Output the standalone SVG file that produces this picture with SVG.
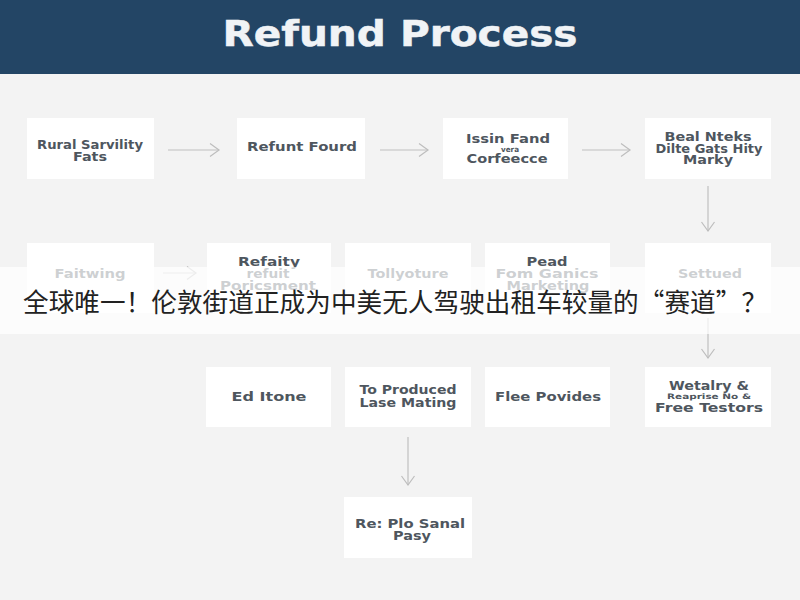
<svg xmlns="http://www.w3.org/2000/svg" width="800" height="600" viewBox="0 0 800 600">
<defs>
<marker id="a" markerUnits="userSpaceOnUse" markerWidth="20" markerHeight="20" refX="17" refY="10" orient="auto"><path d="M8 3.5L17 10L8 16.5" fill="none" stroke="#bdbdbd" stroke-width="1.2"/></marker>
</defs>
<style>
.n{fill:#fff}
.t{font-family:"DejaVu Sans","Liberation Sans",sans-serif;font-size:12.5px;font-weight:700;fill:#4e565e;text-anchor:middle}
.s{font-size:7.5px}
.c{fill:none;stroke:#c0c0c0;stroke-width:1.2;marker-end:url(#a)}
</style>
<rect width="800" height="600" fill="#f3f3f3"/>
<rect id="header" width="800" height="74" fill="#234565"/>
<text x="400" y="46" font-family="'DejaVu Sans','Liberation Sans',sans-serif" font-size="35" font-weight="700" fill="#f0f3f6" stroke="#f0f3f6" stroke-width=".5" text-anchor="middle" textLength="355" lengthAdjust="spacingAndGlyphs">Refund Process</text>
<g id="connectors">
<path class="c" d="M168 150H219"/><path class="c" d="M380 150H428"/><path class="c" d="M582 150H630"/>
<path class="c" d="M708 186V231"/><path class="c" d="M163 273H196"/><path class="c" d="M708 318V358"/><path class="c" d="M408 437V485"/>
</g>
<g id="n1"><rect class="n" x="27" y="118" width="127" height="61"/><text class="t" x="90" y="149" textLength="106" lengthAdjust="spacingAndGlyphs">Rural Sarvility</text><text class="t" x="90" y="161" textLength="34" lengthAdjust="spacingAndGlyphs">Fats</text></g>
<g id="n2"><rect class="n" x="237" y="118" width="128" height="61"/><text class="t" x="302" y="151" textLength="110" lengthAdjust="spacingAndGlyphs">Refunt Fourd</text></g>
<g id="n3"><rect class="n" x="443" y="118" width="125" height="61"/><text class="t" x="508" y="143" textLength="84" lengthAdjust="spacingAndGlyphs">Issin Fand</text><text class="t s" x="510" y="152" textLength="18" lengthAdjust="spacingAndGlyphs">vera</text><text class="t" x="507" y="163" textLength="81" lengthAdjust="spacingAndGlyphs">Corfeecce</text></g>
<g id="n4"><rect class="n" x="645" y="118" width="126" height="61"/><text class="t" x="708" y="141" textLength="87" lengthAdjust="spacingAndGlyphs">Beal Nteks</text><text class="t" x="709" y="153" textLength="107" lengthAdjust="spacingAndGlyphs">Dilte Gats Hity</text><text class="t" x="708" y="164" textLength="50" lengthAdjust="spacingAndGlyphs">Marky</text></g>
<g id="n5"><rect class="n" x="27" y="243" width="127" height="70"/><text class="t" x="90" y="278" textLength="71" lengthAdjust="spacingAndGlyphs">Faitwing</text></g>
<g id="n6"><rect class="n" x="207" y="243" width="124" height="70"/><text class="t" x="269" y="266" textLength="62" lengthAdjust="spacingAndGlyphs">Refaity</text><text class="t" x="268" y="278" textLength="43" lengthAdjust="spacingAndGlyphs">refuit</text><text class="t" x="268" y="290" textLength="96" lengthAdjust="spacingAndGlyphs">Poricsment</text></g>
<g id="n7"><rect class="n" x="345" y="243" width="126" height="70"/><text class="t" x="408" y="278" textLength="81" lengthAdjust="spacingAndGlyphs">Tollyoture</text></g>
<g id="n8"><rect class="n" x="485" y="243" width="125" height="70"/><text class="t" x="547" y="266" textLength="41" lengthAdjust="spacingAndGlyphs">Pead</text><text class="t" x="547" y="278" textLength="103" lengthAdjust="spacingAndGlyphs">Fom Ganics</text><text class="t" x="548" y="290" textLength="83" lengthAdjust="spacingAndGlyphs">Marketing</text></g>
<g id="n9"><rect class="n" x="645" y="243" width="126" height="70"/><text class="t" x="710" y="278" textLength="64" lengthAdjust="spacingAndGlyphs">Settued</text></g>
<rect id="banner" y="267" width="800" height="67" fill="#fff" fill-opacity=".72"/>
<text x="395" y="312" font-family="'Noto Sans CJK SC','Noto Sans',sans-serif" font-size="25.6" fill="#222" text-anchor="middle" textLength="744">全球唯一！伦敦街道正成为中美无人驾驶出租车较量的“赛道”？</text>
<g id="n10"><rect class="n" x="206" y="367" width="125" height="60"/><text class="t" x="269" y="401" textLength="75" lengthAdjust="spacingAndGlyphs">Ed Itone</text></g>
<g id="n11"><rect class="n" x="345" y="367" width="126" height="60"/><text class="t" x="408" y="394" textLength="97" lengthAdjust="spacingAndGlyphs">To Produced</text><text class="t" x="408" y="407" textLength="97" lengthAdjust="spacingAndGlyphs">Lase Mating</text></g>
<g id="n12"><rect class="n" x="485" y="367" width="125" height="60"/><text class="t" x="548" y="401" textLength="106" lengthAdjust="spacingAndGlyphs">Flee Povides</text></g>
<g id="n13"><rect class="n" x="645" y="367" width="126" height="60"/><text class="t" x="709" y="390" textLength="80" lengthAdjust="spacingAndGlyphs">Wetalry &amp;</text><text class="t s" x="709" y="399" textLength="84" lengthAdjust="spacingAndGlyphs">Reaprise No &amp;</text><text class="t" x="709" y="412" textLength="108" lengthAdjust="spacingAndGlyphs">Free Testors</text></g>
<g id="n14"><rect class="n" x="344" y="497" width="128" height="61"/><text class="t" x="410" y="528" textLength="110" lengthAdjust="spacingAndGlyphs">Re: Plo Sanal</text><text class="t" x="412" y="540" textLength="38" lengthAdjust="spacingAndGlyphs">Pasy</text></g>
</svg>
